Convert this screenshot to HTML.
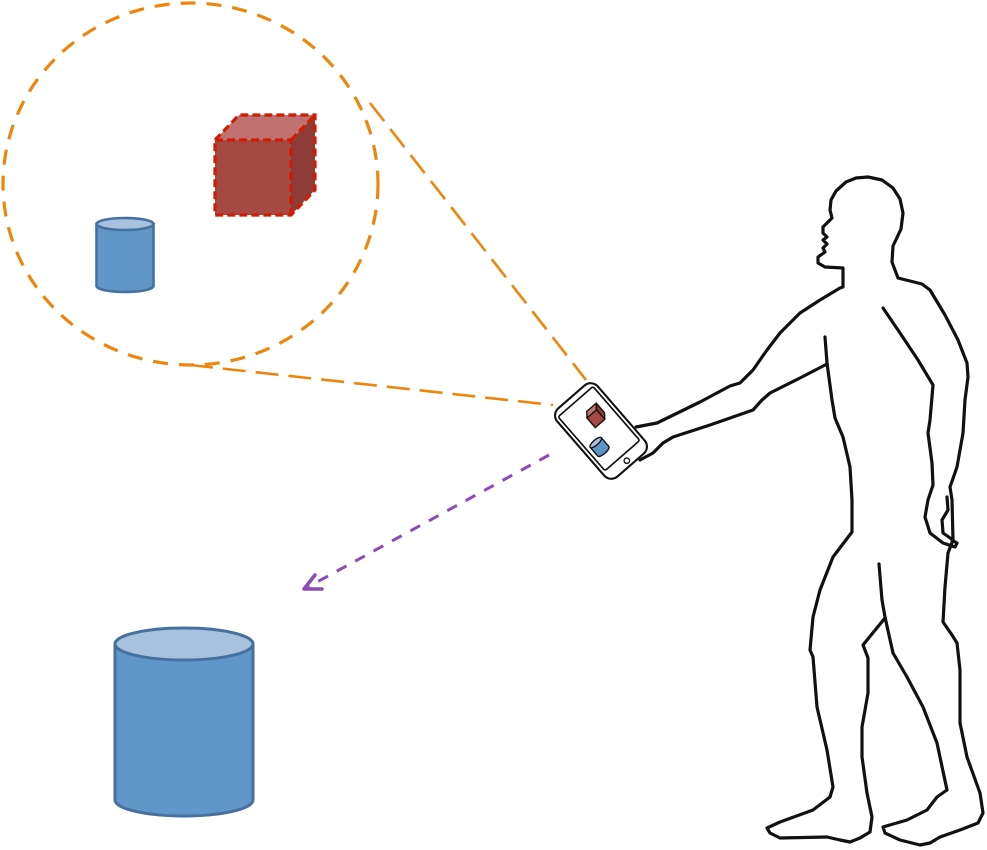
<!DOCTYPE html>
<html>
<head>
<meta charset="utf-8">
<style>
  html, body { margin: 0; padding: 0; background: #ffffff; }
  svg { display: block; }
</style>
</head>
<body>
<svg width="987" height="850" viewBox="0 0 987 850" xmlns="http://www.w3.org/2000/svg">
  <rect x="0" y="0" width="987" height="850" fill="#ffffff"/>

  <!-- Orange dashed magnifier circle -->
  <ellipse cx="190.5" cy="184" rx="187.5" ry="181" fill="none" stroke="#ec860c" stroke-width="3.2" stroke-dasharray="15 11"/>

  <!-- Orange dashed view lines -->
  <line x1="370" y1="103" x2="586" y2="380" stroke="#ec860c" stroke-width="2.6" stroke-dasharray="23 10"/>
  <line x1="190" y1="365" x2="553" y2="405" stroke="#ec860c" stroke-width="2.6" stroke-dasharray="23 10"/>

  <!-- Purple dashed arrow -->
  <line x1="549" y1="455" x2="308" y2="587" stroke="#8a4cb8" stroke-width="3" stroke-dasharray="11 10"/>
  <polyline points="315,575 304,589 322,589" fill="none" stroke="#8a4cb8" stroke-width="3.5" stroke-linecap="round" stroke-linejoin="round"/>

  <!-- Small cylinder in circle -->
  <path d="M96.5,224 L96.5,286 A28.5,6 0 0 0 153.5,286 L153.5,224 Z" fill="#6196c9" stroke="#46719f" stroke-width="2.6"/>
  <ellipse cx="125" cy="224" rx="28.5" ry="6" fill="#a8c1df" stroke="#46719f" stroke-width="2.6"/>

  <!-- Red cube with dashed outline -->
  <polygon points="215,140 239,115 315,115 291,140" fill="#bf7270"/>
  <polygon points="291,140 315,115 315,190 291,215" fill="#8e3c37"/>
  <rect x="215" y="140" width="76" height="75" fill="#a54a42"/>
  <path d="M215,140 L239,115 L315,115 L315,190 L291,215 L215,215 Z" fill="none" stroke="#d01c00" stroke-width="3.2" stroke-dasharray="8 4"/>
  <path d="M215,140 L291,140 L291,215 M291,140 L315,115" fill="none" stroke="#d01c00" stroke-width="3.2" stroke-dasharray="8 4"/>

  <!-- Big cylinder -->
  <path d="M115,644 L115,800 A69,16 0 0 0 253,800 L253,644 Z" fill="#6196c9" stroke="#46719f" stroke-width="3"/>
  <ellipse cx="184" cy="644" rx="69" ry="16" fill="#a8c1df" stroke="#46719f" stroke-width="3"/>

  <!-- Person silhouette -->
  <g fill="none" stroke="#111111" stroke-width="3.2" stroke-linejoin="round" stroke-linecap="round">
    <path d="M636,427 L657,423 L700,402 L730,386 L740,383 L753,370 L767,350 L780,333 L800,313 L820,300 L840,288 L843,287 L843,268 L825,267 L818,263 L818,257 L825,252 L823,248 L827,244 L823,240 L827,237 L823,233 L823,227 L832,218 L830,210 L831,200 L836,191 L846,182 L856,178 L868,177 L882,180 L893,188 L900,199 L903,213 L901,229 L893,246 L892,262 L898,278 L910,281 L922,284 L930,290 L945,315 L958,340 L967,363 L968,377 L965,400 L963,433 L957,467 L950,487 L952,500 L953,540 L948,553 L945,587 L943,622 L952,635 L957,643 L960,670 L960,723 L967,757 L980,793 L983,813 L978,823 L960,830 L940,837 L930,843 L920,845 L900,840 L885,833 L883,827 L907,820 L927,810 L937,797 L947,790 L937,743 L923,707 L907,677 L893,653 L885,617 L882,600 L879,564"/>
    <path d="M825,337 L827,363 L832,400 L835,418 L843,437 L850,467 L852,500 L852,532 L833,557 L820,590 L813,617 L810,650 L813,657 L817,707 L827,750 L833,787 L830,797 L813,810 L780,822 L767,828 L770,833 L780,838 L827,837 L840,840 L850,842 L860,838 L870,832 L872,817 L867,793 L862,757 L862,727 L868,693 L868,658 L863,645 L885,618"/>
    <path d="M640,460 L653,453 L663,443 L673,437 L710,425 L753,410 L762,400 L770,393 L800,378 L827,364"/>
    <path d="M883,308 L900,333 L918,360 L933,385 L930,420 L928,433 L932,463 L933,485 L928,500 L925,517 L930,533 L943,543 L955,547 L957,543 L952,540"/>
    <path d="M947,497 L948,510 L942,520 L943,533 L953,540"/>
  </g>

  <!-- Phone -->
  <g transform="translate(601,431) rotate(-41) scale(1.05)">
    <rect x="-25.5" y="-43" width="51" height="86" rx="9" ry="9" fill="#ffffff" stroke="#111111" stroke-width="2"/>
    <rect x="-22" y="-37" width="44" height="68" rx="2" ry="2" fill="#ffffff" stroke="#111111" stroke-width="1.6"/>
    <circle cx="0" cy="37.5" r="2.6" fill="#ffffff" stroke="#111111" stroke-width="1.3"/>
    <!-- mini cube -->
    <g transform="translate(5,-14)">
      <polygon points="-7,-4 -3,-9 9,-9 5,-4" fill="#c07472" stroke="#111" stroke-width="1.3" stroke-linejoin="round"/>
      <polygon points="5,-4 9,-9 9,3 5,8" fill="#8e3c37" stroke="#111" stroke-width="1.3" stroke-linejoin="round"/>
      <rect x="-7" y="-4" width="12" height="12" fill="#a54a42" stroke="#111" stroke-width="1.3"/>
    </g>
    <!-- mini cylinder -->
    <g transform="translate(-11,10)">
      <path d="M-7,-5 L-7,6 A7,2.5 0 0 0 7,6 L7,-5 Z" fill="#5b93cb" stroke="#111" stroke-width="1.3"/>
      <ellipse cx="0" cy="-5" rx="7" ry="2.5" fill="#a8c1df" stroke="#111" stroke-width="1.3"/>
    </g>
  </g>
</svg>
</body>
</html>
